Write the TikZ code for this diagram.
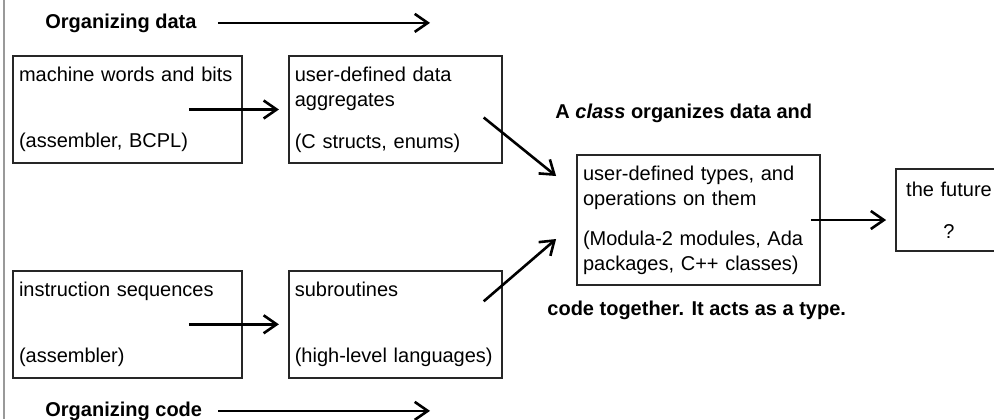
\documentclass[tikz,border=0pt]{standalone}
\usepackage{fontspec}
\setmainfont{Liberation Sans}
\usepackage{tikz}
\usetikzlibrary{arrows.meta, positioning}
\definecolor{boxline}{rgb}{0.15,0.15,0.15}
\definecolor{edgegrey}{rgb}{0.60,0.60,0.60}
\newcommand{\boxfont}{\fontsize{10}{12.5}\selectfont}

\begin{document}
\begin{tikzpicture}[
  x=0.5pt, y=-0.5pt,
  >={Straight Barb[length=6.5pt,width=9pt]},
  box/.style={draw=boxline, line width=0.9pt, inner xsep=3pt, inner ysep=0pt,
              minimum height=53.5pt, align=left, font=\boxfont},
  lbl/.style={font=\boxfont\bfseries, inner sep=0pt},
  arr/.style={draw=black, line width=1.3pt, ->}
]
  \useasboundingbox (0,0) rectangle (994,419);
  \draw[edgegrey, line width=1pt] (4,0) -- (4,419);
  % data row
  \node[box, text width=108.5pt] (words) at (127.5,109.5)
    {machine words and bits\\[20.5pt](assembler, BCPL)};
  \node[box, text width=100.5pt, right=22.5pt of words] (aggr)
    {user-defined data\\aggregates\\[8.5pt](C structs, enums)};
  % code row
  \node[box, text width=108.5pt, below=53pt of words] (instr)
    {instruction sequences\\[20.5pt](assembler)};
  \node[box, text width=100.5pt, right=22.5pt of instr] (subr)
    {subroutines\\[20.5pt](high-level languages)};
  % classes and beyond
  \node[box, text width=115.5pt, minimum height=65pt] (types) at (698.5,220)
    {user-defined types, and\\operations on them\\[7.5pt](Modula-2 modules, Ada\\packages, C++ classes)};
  \node[box, text width=47pt, minimum height=41pt, align=center] (future) at (949,210)
    {the future\\[8.5pt]?};
  % headings
  \node[lbl, anchor=base west] (orgdata) at (45,28) {Organizing data};
  \node[lbl, anchor=base west] (orgcode) at (45,416) {Organizing code};
  \node[lbl, anchor=base west] (classtop) at (555,118) {A \textit{class} organizes data and};
  \node[lbl, anchor=base west] (classbot) at (547,315) {code together. It acts as a type.};
  \coordinate (datahead) at (430,24);
  \coordinate (codehead) at (430,409);
  % arrows
  \draw[arr] ([xshift=10.5pt]orgdata.east) -- (orgdata.east -| datahead);
  \draw[arr] ([xshift=8pt]orgcode.east) -- (orgcode.east -| codehead);
  \draw[arr] ([xshift=-27pt]words.east) -- ([xshift=-4.5pt]aggr.west);
  \draw[arr] ([xshift=-27pt]instr.east) -- ([xshift=-4.5pt]subr.west);
  \draw[arr] ([xshift=-9.5pt,yshift=-4pt]aggr.east) -- ([xshift=-10pt,yshift=22pt]types.west);
  \draw[arr] ([xshift=-9.5pt,yshift=11.5pt]subr.east) -- ([xshift=-10pt,yshift=-9.5pt]types.west);
  \draw[arr] ([xshift=-5pt]types.east) -- ([xshift=-4.5pt]types.east -| future.west);
\end{tikzpicture}
\end{document}
